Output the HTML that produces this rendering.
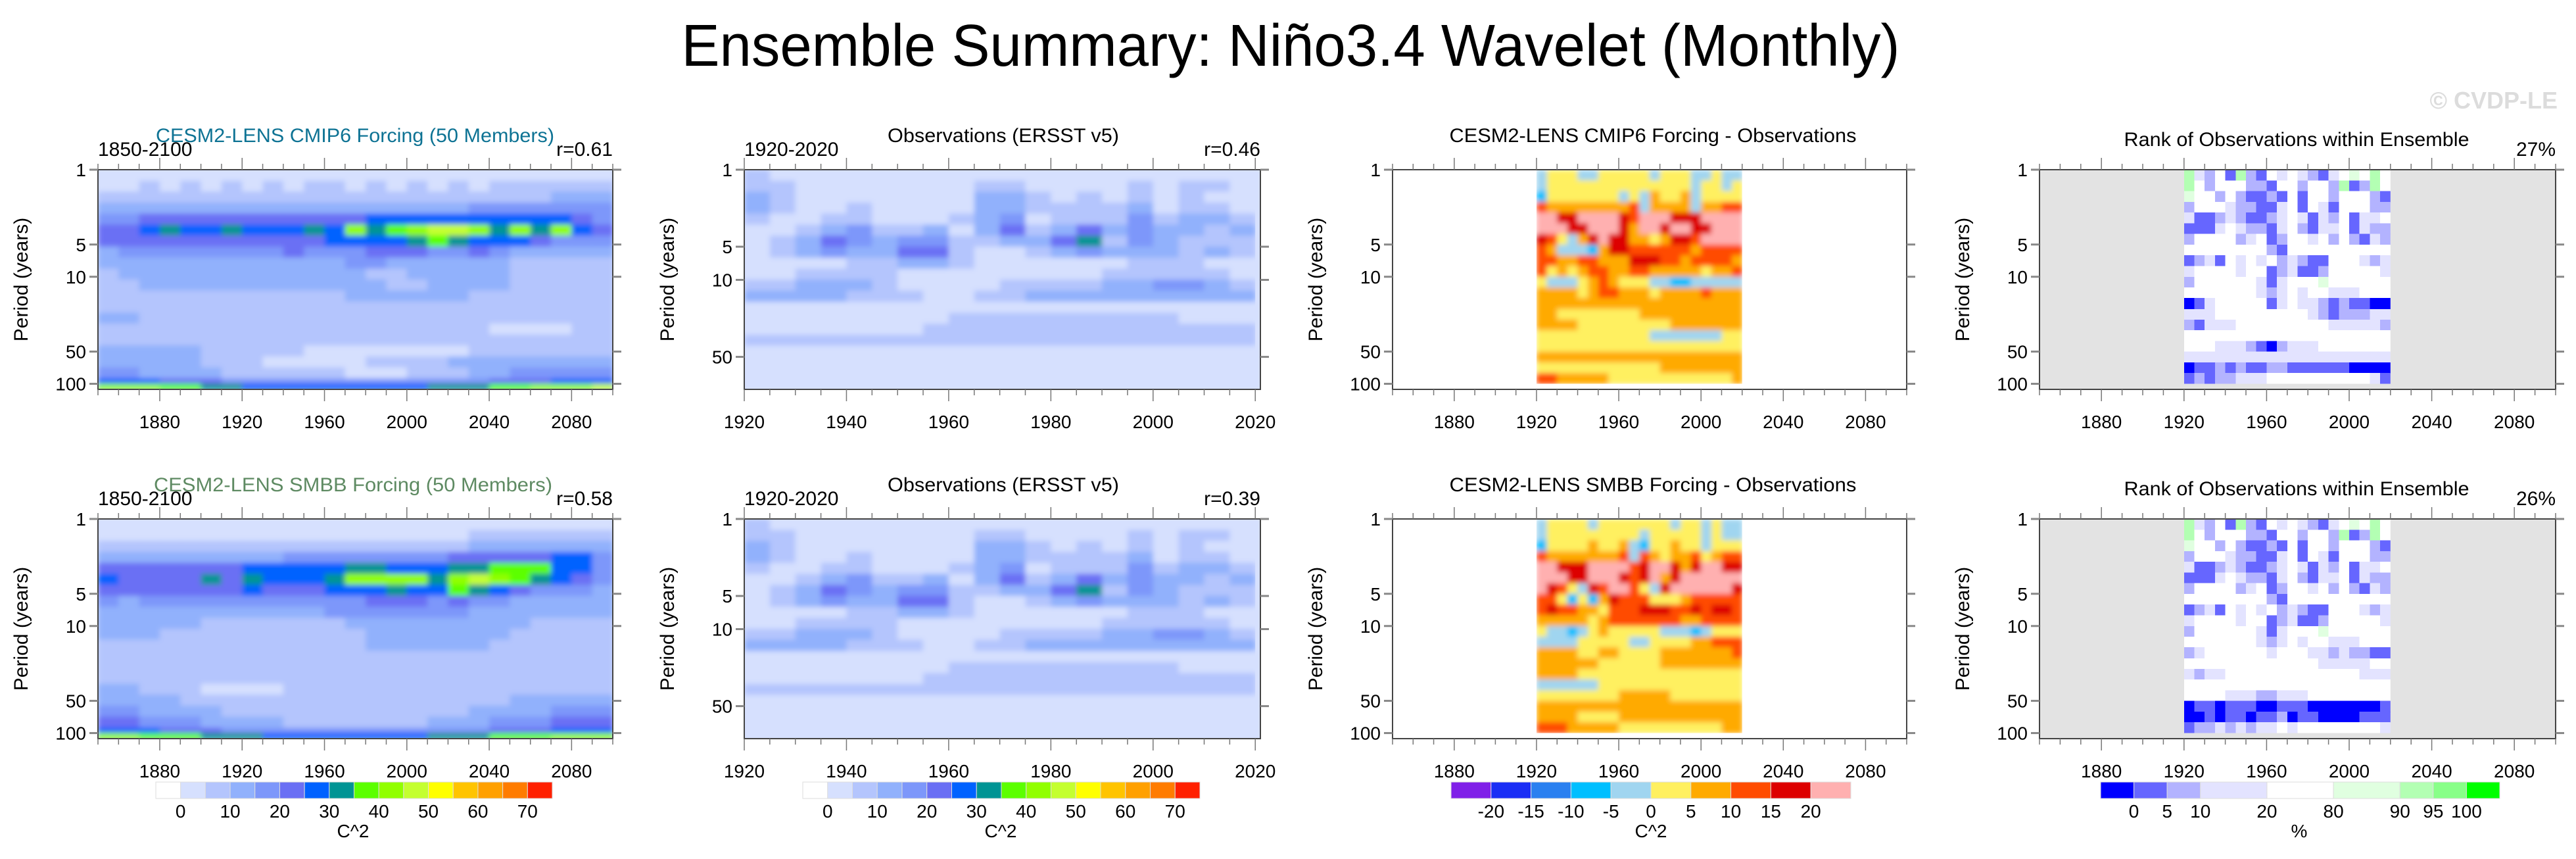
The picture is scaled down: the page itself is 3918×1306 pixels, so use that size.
<!DOCTYPE html>
<html><head><meta charset="utf-8"><title>Ensemble Summary: Niño3.4 Wavelet (Monthly)</title>
<style>html,body{margin:0;padding:0;background:#fff}svg{display:block;font-family:"Liberation Sans",sans-serif}</style>
</head><body>
<svg id="fig" width="3918" height="1306" viewBox="0 0 3918 1306" xmlns="http://www.w3.org/2000/svg">
<defs>
<filter id="smooth" x="-5%" y="-5%" width="110%" height="110%"><feGaussianBlur stdDeviation="4" edgeMode="duplicate"/></filter>
</defs>
<rect x="0" y="0" width="3918" height="1306" fill="#fff"/>
<text x="1963" y="100" font-size="90" text-anchor="middle" textLength="1853" lengthAdjust="spacingAndGlyphs">Ensemble Summary: Niño3.4 Wavelet (Monthly)</text>
<text x="3890" y="165" font-size="36" font-weight="bold" fill="#dcdcdc" text-anchor="end">© CVDP-LE</text>
<g id="panels"></g>
</svg>
<script>
// ---------- data ----------
const modelYearStart = 1850, modelYearStep = 10, modelYearCount = 25;
const modelPeriods = [1,1.27,1.6,2.03,2.57,3.25,4.12,5.22,6.6,8.4,10.6,13.4,17,21.6,27.3,34.6,43.8,55.5,70.3,89,100,112.7];
const obsYearStart = 1920, obsYearStep = 5, obsYearCount = 20;
const obsPeriods = [1,1.26,1.58,1.99,2.5,3.15,3.97,4.99,6.28,7.91,9.95,12.5,15.8,19.9,25,31.5,39.6,49.9,62.8,79,99.5];
const diffPeriods = [1,1.26,1.58,2,2.51,3.16,3.98,5.01,6.31,7.94,10,12.6,15.8,20,25.1,31.6,39.8,50.1,63.1,79.4,100];

const cmip6Power = [
[2,2,2,2,2,2,2,2,2,2,2,2,2,2,2,2,2,2,2,2,2,2,2,2,2],
[2,2,7,2,7,2,7,2,7,2,7,7,2,7,2,7,2,7,2,7,7,7,7,7,7],
[7,7,7,7,7,7,7,7,7,7,7,7,7,7,7,7,7,7,7,7,7,7,12,12,12],
[12,12,12,12,12,12,12,12,12,12,12,12,12,12,12,12,12,12,17,17,17,17,17,17,17],
[17,17,22,22,22,22,22,22,22,22,22,22,22,27,27,27,27,27,27,27,27,27,27,22,17],
[22,22,27,32,27,27,32,27,27,27,32,27,42,32,37,42,47,47,42,32,42,32,42,27,22],
[22,22,22,22,22,22,22,22,22,22,22,27,27,27,27,32,37,32,27,27,27,22,17,17,17],
[12,17,17,17,17,17,17,17,17,22,17,17,17,22,22,22,17,17,22,17,12,12,12,12,12],
[12,12,12,12,12,12,12,12,12,12,12,12,17,17,12,12,12,12,12,12,7,7,7,7,7],
[7,12,12,12,12,12,12,12,12,12,12,12,12,7,7,12,12,12,12,12,7,7,7,7,7],
[7,7,12,12,12,12,12,12,12,12,12,12,12,12,7,7,12,12,12,12,7,7,7,7,7],
[7,7,7,7,7,7,7,7,7,7,7,7,12,12,12,12,12,12,7,7,7,7,7,7,7],
[7,7,7,7,7,7,7,7,7,7,7,7,7,7,7,7,7,7,7,7,7,7,7,7,7],
[12,12,7,7,7,7,7,7,7,7,7,7,7,7,7,7,7,7,7,7,7,7,7,7,7],
[7,7,7,7,7,7,7,7,7,7,7,7,7,7,7,7,7,7,7,2,2,2,2,7,7],
[7,7,7,7,7,7,7,7,7,7,7,7,7,7,7,7,7,7,7,7,7,7,7,7,7],
[12,12,12,12,12,7,7,7,7,7,2,2,2,2,2,2,2,2,7,7,7,7,7,7,7],
[12,12,12,12,12,7,7,7,2,2,2,2,2,7,7,7,7,12,12,12,12,12,12,12,12],
[17,17,12,12,12,12,7,7,7,7,7,7,2,2,2,7,7,7,12,12,17,17,17,17,17],
[27,27,27,22,22,22,17,17,17,17,17,17,17,17,17,17,17,17,17,22,22,22,27,27,27],
[42,42,42,37,37,32,32,27,27,27,27,27,27,27,27,27,32,32,32,37,37,42,42,42,47]];

const smbbPower = [
[2,2,2,2,2,2,2,2,2,2,2,2,2,2,2,2,2,2,2,2,2,2,2,2,2],
[2,2,2,2,2,2,2,2,2,2,2,2,2,2,2,2,2,2,7,7,7,7,7,7,7],
[7,7,7,7,7,7,7,7,7,7,7,7,7,7,7,7,7,7,12,12,12,12,12,12,12],
[12,12,12,12,12,12,12,12,12,17,17,17,17,17,17,17,17,22,22,22,22,22,27,27,17],
[22,22,22,22,22,22,22,27,27,27,27,27,32,32,27,27,27,32,32,37,37,37,27,27,17],
[27,22,22,22,22,32,22,32,27,27,27,32,42,42,42,42,32,42,47,42,37,32,27,22,17],
[22,22,22,22,22,22,22,27,22,22,22,27,27,27,32,27,27,37,32,27,22,17,17,17,12],
[17,12,17,17,17,17,17,17,17,17,17,17,17,22,22,22,17,22,17,17,12,12,12,12,12],
[12,12,12,12,12,12,12,12,12,12,12,17,17,17,17,17,17,17,12,12,12,12,12,12,12],
[12,12,12,12,12,7,7,7,7,7,7,7,12,12,12,12,12,12,12,12,12,7,7,7,7],
[12,12,12,7,7,7,7,7,7,7,7,7,7,12,12,12,12,12,12,12,7,7,7,7,7],
[7,7,7,7,7,7,7,7,7,7,7,7,7,12,12,12,12,12,12,7,7,7,7,7,7],
[7,7,7,7,7,7,7,7,7,7,7,7,7,7,7,7,7,7,7,7,7,7,7,7,7],
[7,7,7,7,7,7,7,7,7,7,7,7,7,7,7,7,7,7,7,7,7,7,7,7,7],
[7,7,7,7,7,7,7,7,7,7,7,7,7,7,7,7,7,7,7,7,7,7,7,7,7],
[12,12,7,7,7,2,2,2,2,7,7,7,7,7,7,7,7,7,7,7,7,7,7,7,7],
[12,12,12,12,7,7,7,7,7,7,7,7,7,7,7,7,7,7,7,7,12,12,12,12,12],
[17,17,12,12,12,12,7,7,7,7,7,7,7,7,7,7,7,7,12,12,12,12,17,17,17],
[22,22,17,17,17,12,12,12,12,7,7,7,7,7,7,7,12,12,12,17,17,17,22,22,22],
[27,27,27,22,22,22,17,17,17,17,17,17,17,17,17,17,17,17,17,22,22,22,27,27,27],
[42,42,37,37,37,32,32,32,27,27,27,27,27,27,27,27,32,32,32,37,37,37,42,42,42]];

const obsPower = [
[7,2,2,2,2,2,2,2,2,2,2,2,2,2,2,2,2,2,2,2],
[7,7,2,2,2,2,2,2,2,7,7,2,2,2,2,7,2,7,7,2],
[12,7,2,2,2,2,2,2,2,12,12,7,2,7,2,7,2,7,2,2],
[12,7,2,2,7,2,2,2,2,12,12,7,7,7,7,12,2,7,7,2],
[7,2,2,7,7,2,2,2,7,12,17,0,7,7,7,17,7,12,12,7],
[2,2,7,12,17,7,7,12,2,12,22,7,12,22,12,17,12,12,7,12],
[2,7,12,22,17,12,17,17,7,7,12,12,22,32,7,17,12,7,7,7],
[2,7,12,17,12,12,22,22,7,2,2,7,12,17,12,12,12,7,12,7],
[2,2,2,2,7,7,12,12,7,2,2,2,2,2,2,7,7,7,2,2],
[2,2,7,7,7,7,2,2,2,2,2,2,2,2,7,7,7,7,7,2],
[7,7,12,12,12,7,2,2,2,2,7,7,7,7,12,12,17,17,12,7],
[12,12,12,12,7,7,7,2,2,7,7,12,12,12,12,12,12,12,12,12],
[2,2,2,2,2,2,2,2,2,2,2,2,2,2,2,2,2,2,2,2],
[2,2,2,2,2,2,2,2,7,7,7,7,7,7,7,7,7,2,2,2],
[2,2,2,2,2,2,2,7,7,7,7,7,7,7,7,7,7,7,7,7],
[7,7,7,7,7,7,7,7,7,7,7,7,7,7,7,7,7,7,7,7],
[2,2,2,2,2,2,2,2,2,2,2,2,2,2,2,2,2,2,2,2],
[2,2,2,2,2,2,2,2,2,2,2,2,2,2,2,2,2,2,2,2],
[2,2,2,2,2,2,2,2,2,2,2,2,2,2,2,2,2,2,2,2],
[2,2,2,2,2,2,2,2,2,2,2,2,2,2,2,2,2,2,2,2]];

const cmip6Diff = [
[-2,2,2,2,-2,-2,2,2,2,2,2,-2,2,2,2,-2,-2,2,-2,-2],
[-2,2,2,2,2,2,2,2,2,2,2,2,2,2,2,-2,2,2,-2,2],
[-7,2,2,2,2,2,2,2,-2,2,-2,7,2,2,7,-2,2,2,2,2],
[12,7,7,7,7,7,7,7,7,12,-2,7,7,7,7,-2,7,7,12,12],
[25,25,17,17,25,25,25,25,17,12,25,25,25,17,17,17,25,25,25,25],
[25,25,25,17,17,25,25,25,17,7,25,25,17,25,25,17,17,25,25,25],
[17,12,2,-2,7,17,25,17,17,7,7,2,7,17,17,12,25,25,25,25],
[12,7,-2,-2,-2,-7,7,17,17,12,12,12,12,12,12,7,12,12,12,12],
[12,12,7,7,12,12,7,7,7,17,17,17,12,12,7,12,12,12,12,7],
[12,2,7,2,7,12,12,7,7,12,12,7,7,7,7,7,2,7,7,12],
[2,-2,-2,-2,2,7,12,7,2,2,2,-2,-2,-7,-7,-2,-2,-2,-2,-2],
[7,7,7,7,2,7,12,12,7,7,7,2,7,7,7,7,12,7,7,7],
[7,7,7,7,7,7,7,7,7,7,7,7,7,7,7,7,7,7,7,7],
[7,7,2,2,2,2,2,2,2,2,7,7,7,7,7,7,7,7,7,7],
[7,7,7,7,2,2,2,2,2,2,2,2,2,7,7,7,7,7,7,7],
[2,2,2,2,2,2,2,2,2,2,2,-2,-2,-2,-2,-2,-2,-2,2,2],
[2,2,2,2,2,2,2,2,2,2,2,2,2,2,2,2,2,2,2,2],
[7,7,7,7,7,7,7,7,7,7,7,7,7,7,7,7,7,7,7,7],
[2,2,2,2,2,2,2,2,2,2,2,2,7,7,7,7,7,7,7,7],
[12,12,7,7,7,7,7,2,2,2,2,2,2,2,2,2,2,2,2,7]];

const smbbDiff = [
[-2,2,2,2,2,-2,2,2,2,2,2,2,2,-2,2,2,-2,2,-2,-2],
[-2,2,2,2,2,2,2,2,2,2,-2,2,2,2,2,2,-2,2,-2,-2],
[-7,2,2,2,2,7,2,2,7,-2,-7,2,2,7,2,2,-2,2,2,2],
[12,7,7,7,7,7,7,7,12,-2,12,7,2,7,7,12,2,7,12,12],
[25,25,17,17,17,25,25,25,25,12,17,25,25,17,7,17,25,25,17,17],
[25,25,25,17,17,25,25,25,17,12,17,25,7,17,25,25,25,25,25,25],
[25,17,12,2,-2,17,12,25,25,12,2,-2,17,25,25,25,25,25,25,17],
[12,12,2,-7,2,-7,7,17,12,12,12,2,2,2,7,12,12,12,12,12],
[12,17,12,12,7,7,2,12,12,12,17,17,17,12,12,17,12,17,17,12],
[7,7,7,7,7,2,7,12,12,12,12,12,12,12,7,7,12,12,12,12],
[2,-2,-2,-7,-2,2,7,2,2,2,2,2,-2,-2,-2,-7,-2,2,2,2],
[-2,-2,-2,-2,2,2,2,2,2,-2,-2,2,2,2,2,7,7,12,12,12],
[7,7,7,7,2,2,7,7,2,2,2,2,7,7,7,7,7,7,7,12],
[7,7,7,7,7,7,2,2,2,2,2,2,7,7,7,7,7,7,7,7],
[7,7,7,7,2,2,2,2,2,2,2,2,2,2,2,2,2,2,2,2],
[-2,-2,-2,-2,-2,-2,2,2,2,2,2,2,2,2,2,2,2,2,2,2],
[2,2,2,2,2,2,2,2,7,7,7,7,7,2,2,2,2,2,2,2],
[7,7,7,7,7,7,7,7,7,7,7,7,7,7,7,7,7,7,7,7],
[7,7,7,7,2,2,2,2,7,7,7,7,7,7,7,7,7,7,7,7],
[12,12,12,7,7,7,7,7,2,2,2,2,2,2,2,2,2,2,7,7]];

const cmip6Rank = [
[92,15,7,50,3,92,7,3,50,15,50,15,7,3,15,50,85,50,92,50],
[92,50,7,50,50,50,7,7,3,50,50,7,50,50,7,92,3,7,92,50],
[85,50,50,7,50,7,3,3,7,3,50,3,50,50,7,50,50,50,7,3],
[7,50,50,50,15,7,7,3,3,15,50,3,50,15,3,50,50,50,7,7],
[15,3,3,7,15,7,3,3,7,15,50,15,3,15,7,50,3,15,15,50],
[3,3,3,15,50,15,7,7,3,15,50,7,3,15,15,50,3,15,7,7],
[7,50,50,50,50,7,15,50,3,7,50,50,15,50,7,50,7,3,15,7],
[50,50,50,50,50,50,50,50,7,3,50,50,50,50,50,50,50,50,50,50],
[3,7,15,3,50,15,50,15,50,7,15,7,3,3,50,50,50,15,7,15],
[15,50,50,50,50,15,50,50,3,7,15,3,3,7,50,50,50,50,50,15],
[7,50,50,50,50,50,50,15,3,15,50,50,50,85,50,50,50,50,50,50],
[50,50,50,50,50,50,50,15,7,15,50,15,50,50,15,15,15,50,50,50],
[0,3,15,50,50,50,50,50,3,15,50,15,15,7,3,7,3,3,0,0],
[15,15,15,50,50,50,50,50,50,50,50,50,15,7,3,7,7,7,15,15],
[7,3,15,15,15,50,50,50,50,50,50,50,50,50,15,15,15,15,15,7],
[50,50,50,50,50,50,50,50,50,50,50,50,50,50,50,50,50,50,50,50],
[50,50,50,15,15,15,7,3,0,7,15,15,15,50,50,50,50,50,50,50],
[15,15,15,15,15,15,15,15,15,15,15,15,15,15,15,15,15,15,15,15],
[0,3,3,7,3,7,3,3,7,7,3,3,3,3,3,3,0,0,0,0],
[3,7,3,7,7,15,15,15,50,50,50,50,50,50,50,50,50,50,15,3]];

const smbbRank = [
[92,15,7,50,3,92,7,3,50,15,50,15,7,3,15,50,85,50,92,50],
[92,50,7,50,50,50,7,7,3,50,50,7,50,50,7,92,3,7,92,50],
[85,50,50,7,50,7,3,3,7,3,50,3,50,50,7,50,50,50,7,3],
[7,50,50,50,15,7,7,3,3,15,50,3,50,15,3,50,50,50,7,7],
[15,3,3,7,15,7,3,3,7,15,50,15,3,15,7,50,3,15,15,50],
[3,3,3,15,50,15,7,7,3,15,50,7,3,15,15,50,3,15,7,7],
[7,50,50,50,50,7,15,50,3,7,50,50,15,50,7,50,7,3,15,7],
[50,50,50,50,50,50,50,50,7,3,50,50,50,50,50,50,50,50,50,50],
[3,7,15,3,50,15,50,15,50,7,15,7,3,3,50,50,50,15,7,15],
[15,50,50,50,50,15,50,50,3,7,15,3,3,7,50,50,50,50,50,15],
[7,50,50,50,50,50,50,15,3,15,50,50,50,85,50,50,50,50,50,50],
[50,50,50,50,50,50,50,15,7,15,50,15,50,50,15,15,15,50,50,50],
[7,15,50,50,50,50,50,50,15,50,50,50,15,15,7,15,7,7,3,3],
[50,50,50,50,50,50,50,50,50,50,50,50,50,15,15,15,15,15,50,50],
[15,7,15,15,50,50,50,50,50,50,50,50,50,50,50,50,50,15,15,15],
[50,50,50,50,50,50,50,50,50,50,50,50,50,50,50,50,50,50,50,50],
[50,50,50,50,15,15,15,7,7,15,15,15,50,50,50,50,50,50,50,50],
[0,3,3,0,3,3,3,0,0,3,3,3,0,0,0,0,0,0,0,3],
[0,0,3,0,3,3,0,3,3,7,0,3,3,0,0,0,0,3,3,3],
[3,7,7,15,7,15,7,15,15,50,15,50,50,50,50,50,50,50,50,15]];

const waveletColors = ['#ffffff','#d6e0fe','#b4c5fd','#91b1fc','#7d97fa','#6a6ff4','#0062ff','#009494','#5cff00','#91ff00','#c4ff30','#ffff00','#ffc400','#ffa000','#ff7c00','#ff2000'];
const waveletTickLabels = [0,10,20,30,40,50,60,70];
const diffColors = ['#8020e8','#1a2ef5','#2a80f0','#00bfff','#a0d5f0','#fff060','#ffaa00','#ff4c00','#dd0000','#ffb0b0'];
const diffBounds = [-20,-15,-10,-5,0,5,10,15,20];
const rankColors = ['#0000ff','#6666ff','#b3b3ff','#e3e3ff','#ffffff','#e0ffe0','#b3ffb3','#88ff88','#00ff00'];
const rankBounds = [0,5,10,20,80,90,95,100];
const rankBoxWeights = [1,1,1,2,2,2,1,1,1];
const modelYTicks = [1,5,10,50,100];
const obsYTicks = [1,5,10,50];
const modelXTicks = [1880,1920,1960,2000,2040,2080];
const obsXTicks = [1920,1940,1960,1980,2000,2020];

// ---------- helpers ----------
const NS = 'http://www.w3.org/2000/svg';
const root = document.getElementById('panels');
const defs = document.querySelector('defs');
function el(tag, attrs, parent){const e=document.createElementNS(NS,tag);for(const k in attrs)e.setAttribute(k,attrs[k]);(parent||root).appendChild(e);return e;}
function wavIdx(v){return v<0?0:Math.min(15,Math.floor(v/5)+1);}
function diffIdx(v){let n=0;for(const b of diffBounds)if(v>=b)n++;return n;}
function rankIdx(v){let n=0;for(const b of rankBounds)if(v>b)n++;return Math.min(8,n);}
function range(a,b,s){const r=[];for(let v=a;v<=b+1e-9;v+=s)r.push(v);return r;}

const colGeom = [{x0:149,x1:932,xd:[1850,2100]},{x0:1132,x1:1917,xd:[1920,2021]},{x0:2118,x1:2900,xd:[1850,2100]},{x0:3102,x1:3887,xd:[1850,2100]}];
const rowTop = [258,789], plotH = 334;
let clipN = 0;

function makePanel(ci, ri, opt){
  const g=colGeom[ci], y0=rowTop[ri], y1=y0+plotH;
  const logMax=opt.logMax;
  const xs=v=>g.x0+(v-g.xd[0])/(g.xd[1]-g.xd[0])*(g.x1-g.x0);
  const ys=p=>y0+Math.log10(p)/logMax*plotH;
  const grp=el('g',{});
  
  
  const bg=el('rect',{x:g.x0,y:y0,width:g.x1-g.x0,height:plotH,fill:opt.bg},grp);
  
  
  const vals=opt.values;
  const nC=vals[0].length, nR=vals.length;
  const fxa=xs(opt.yStart), fxb=xs(opt.yStart+nC*opt.yStep);
  const fya=ys(opt.periods[0]), fyb=Math.min(y1,ys(opt.periods[nR]));
  const cid='clip'+(clipN++);
  const cp=el('clipPath',{id:cid},defs);
  el('rect',{x:fxa,y:fya,width:fxb-fxa,height:fyb-fya},cp);
  const outer=el('g',{'clip-path':`url(#${cid})`},grp);
  const fld=el('g',opt.smooth?{filter:'url(#smooth)'}:{'shape-rendering':'crispEdges'},outer);
  
  
  for(let r=0;r<nR;r++){
    const ya=ys(opt.periods[r]), yb=ys(opt.periods[r+1]);
    for(let c=0;c<nC;c++){
      const xa=xs(opt.yStart+c*opt.yStep), xb=xs(opt.yStart+(c+1)*opt.yStep);
      const cell=el('rect',{x:xa.toFixed(1),y:ya.toFixed(1),width:(xb-xa+0.8).toFixed(1),height:(yb-ya+0.8).toFixed(1),fill:opt.colors[opt.idx(vals[r][c])]},fld);
      
      
    }
  }
  const fr=el('rect',{x:g.x0,y:y0,width:g.x1-g.x0,height:plotH,fill:'none',stroke:'#444','stroke-width':2},grp);
  
  
  const minor=opt.xMinor, majors=opt.xTicks;
  for(const yr of minor){
    const isMaj=majors.indexOf(yr)>=0, L=isMaj?18:9, x=xs(yr);
    const t1=el('line',{x1:x,y1:y0,x2:x,y2:y0-L,stroke:'#777','stroke-width':1.5},grp);
    
    
    const t2=el('line',{x1:x,y1:y1,x2:x,y2:y1+L,stroke:'#777','stroke-width':1.5},grp);
    
    
  }
  for(const yr of majors){
    const t=el('text',{x:xs(yr),y:y1+59,'font-size':28,'text-anchor':'middle'},grp);
    t.textContent=yr;
    
    
  }
  for(const p of opt.yTicks){
    const y=ys(p);
    const a=el('line',{x1:g.x0-13,y1:y,x2:g.x0,y2:y,stroke:'#888','stroke-width':3},grp);
    
    
    const b=el('line',{x1:g.x1,y1:y,x2:g.x1+13,y2:y,stroke:'#888','stroke-width':3},grp);
    
    
    const t=el('text',{x:g.x0-18,y:y+10,'font-size':28,'text-anchor':'end'},grp);
    t.textContent=p;
    
    
  }
  const yl=el('text',{x:0,y:0,'font-size':30,'text-anchor':'middle',transform:`translate(${g.x0-107},${y0+167}) rotate(-90)`},grp);
  yl.textContent='Period (years)';
  
  
  const tt=el('text',{x:opt.titleX,y:y0-(opt.titleDy||42),'font-size':30,'text-anchor':'middle',fill:opt.titleColor||'#000',textLength:opt.titleW,lengthAdjust:'spacingAndGlyphs'},grp);
  tt.textContent=opt.title;
  
  
  if(opt.left){const t=el('text',{x:g.x0,y:y0-21,'font-size':30},grp);t.textContent=opt.left;
    
    }
  if(opt.right){const t=el('text',{x:g.x1,y:y0-21,'font-size':30,'text-anchor':'end'},grp);t.textContent=opt.right;
    
    }
}

const modelMinor=range(1850,2100,10), obsMinor=range(1920,2020,5);
const base={model:{logMax:2.052,periods:modelPeriods,yStart:modelYearStart,yStep:modelYearStep,colors:waveletColors,idx:wavIdx,bg:'#d6e0fe',xMinor:modelMinor,xTicks:modelXTicks,yTicks:modelYTicks,smooth:true},
 obs:{logMax:1.994,periods:obsPeriods,yStart:obsYearStart,yStep:obsYearStep,colors:waveletColors,idx:wavIdx,bg:'#d6e0fe',xMinor:obsMinor,xTicks:obsXTicks,yTicks:obsYTicks,smooth:true},
 diff:{logMax:2.052,periods:diffPeriods,yStart:obsYearStart,yStep:obsYearStep,colors:diffColors,idx:diffIdx,bg:'#ffffff',xMinor:modelMinor,xTicks:modelXTicks,yTicks:modelYTicks,smooth:true},
 rank:{logMax:2.052,periods:diffPeriods,yStart:obsYearStart,yStep:obsYearStep,colors:rankColors,idx:rankIdx,bg:'#e3e3e3',xMinor:modelMinor,xTicks:modelXTicks,yTicks:modelYTicks,smooth:false}};

makePanel(0,0,Object.assign({},base.model,{name:'cmip6-wavelet-panel',values:cmip6Power,title:'CESM2-LENS CMIP6 Forcing (50 Members)',titleX:540,titleW:606,titleColor:'#0e7394',left:'1850-2100',right:'r=0.61'}));
makePanel(1,0,Object.assign({},base.obs,{name:'obs-wavelet-panel-top',values:obsPower,title:'Observations (ERSST v5)',titleX:1526,titleW:352,left:'1920-2020',right:'r=0.46'}));
makePanel(2,0,Object.assign({},base.diff,{name:'cmip6-minus-obs-panel',values:cmip6Diff,title:'CESM2-LENS CMIP6 Forcing - Observations',titleX:2514,titleW:619}));
makePanel(3,0,Object.assign({},base.rank,{name:'cmip6-rank-panel',values:cmip6Rank,title:'Rank of Observations within Ensemble',titleX:3493,titleW:525,titleDy:36,right:'27%'}));
makePanel(0,1,Object.assign({},base.model,{name:'smbb-wavelet-panel',values:smbbPower,title:'CESM2-LENS SMBB Forcing (50 Members)',titleX:537,titleW:606,titleColor:'#5e8a62',left:'1850-2100',right:'r=0.58'}));
makePanel(1,1,Object.assign({},base.obs,{name:'obs-wavelet-panel-bottom',values:obsPower,title:'Observations (ERSST v5)',titleX:1526,titleW:352,left:'1920-2020',right:'r=0.39'}));
makePanel(2,1,Object.assign({},base.diff,{name:'smbb-minus-obs-panel',values:smbbDiff,title:'CESM2-LENS SMBB Forcing - Observations',titleX:2514,titleW:619}));
makePanel(3,1,Object.assign({},base.rank,{name:'smbb-rank-panel',values:smbbRank,title:'Rank of Observations within Ensemble',titleX:3493,titleW:525,titleDy:36,right:'26%'}));

// ---------- colorbars ----------
function colorbar(name,x0,x1,colors,weights,labels,labelPos,unit,unitX){
  const grp=el('g',{});
  
  
  const tot=weights.reduce((a,b)=>a+b,0); const edges=[x0]; let acc=0;
  for(const w of weights){acc+=w;edges.push(x0+(x1-x0)*acc/tot);}
  colors.forEach((c,i)=>{const r=el('rect',{x:edges[i],y:1189,width:edges[i+1]-edges[i],height:25,fill:c,stroke:'#ddd','stroke-width':1},grp);
    
    });
  labels.forEach((l,i)=>{const t=el('text',{x:edges[labelPos[i]],y:1243,'font-size':28,'text-anchor':'middle'},grp);t.textContent=l;
    
    });
  const u=el('text',{x:unitX,y:1273,'font-size':28,'text-anchor':'middle'},grp);u.textContent=unit;
  
  
}
const wavW=waveletColors.map(()=>1), wavPos=waveletTickLabels.map(v=>v/5+1);
colorbar('colorbar-cmip6',237,840,waveletColors,wavW,waveletTickLabels,wavPos,'C^2',537);
colorbar('colorbar-obs',1221,1825,waveletColors,wavW,waveletTickLabels,wavPos,'C^2',1522);
colorbar('colorbar-diff',2207,2815,diffColors,diffColors.map(()=>1),diffBounds,diffBounds.map((v,i)=>i+1),'C^2',2511);
colorbar('colorbar-rank',3195,3802,rankColors,rankBoxWeights,rankBounds,rankBounds.map((v,i)=>i+1),'%',3497);
</script>
</body></html>
